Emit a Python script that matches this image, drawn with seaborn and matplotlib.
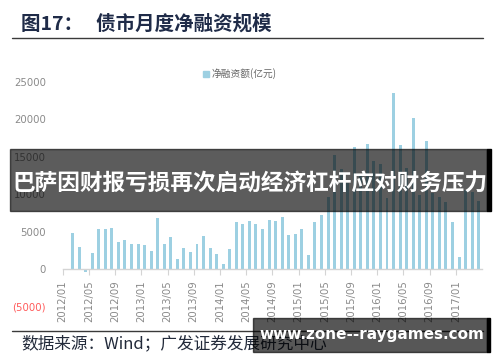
import matplotlib
matplotlib.use("Agg")
import matplotlib.pyplot as plt
import seaborn as sns
import pandas as pd
from matplotlib.patches import Rectangle
from matplotlib.lines import Line2D

sns.set_theme(style="white")
plt.rcParams['font.family'] = ['Noto Sans CJK SC', 'DejaVu Sans']

# ---------------- data ----------------
months = [f"{y}/{m:02d}" for y in range(2012, 2018) for m in range(1, 13)][:64]
net_financing = [
    0, 4770, 2900, -360, 2180, 5350, 5350, 5440, 3600, 3880, 3300, 3300,
    3230, 2360, 6880, 3320, 4320, 1400, 2850, 2320, 3320, 4450, 2850, 1980,
    670, 2720, 6240, 5950, 6420, 5970, 5390, 6600, 6420, 6910, 4500, 4630,
    5350, 1920, 6240, 7220, 9670, 15240, 13330, 11500, 16270, 12500, 16710, 14500,
    14000, 9450, 23490, 16580, 13460, 20150, 9890, 17110, 10120, 9670, 9000, 6240,
    1560, 10560, 10340, 9130,
]
tick_labels = months[::4]
y_ticks = [-5000, 0, 5000, 10000, 15000, 20000, 25000]
y_tick_labels = ["(5000)", "0", "5000", "10000", "15000", "20000", "25000"]
title_text = "图17：   债市月度净融资规模"
legend_text = "净融资额(亿元)"
source_text = "数据来源：Wind；广发证券发展研究中心"
banner_text = "巴萨因财报亏损再次启动经济杠杆应对财务压力"
watermark_text = "www.zone--raygames.com"

df = pd.DataFrame({"month": months, "value": net_financing})

W, H = 500, 362
fig = plt.figure(figsize=(W / 100, H / 100), dpi=100)

def fx(x):
    return x / W

def fy(y):
    return 1 - y / H

# axes geometry (pixels)
x_left, x_right = 62.7, 482.0
y_bottom, y_top = 306.4, 74.5
ax = fig.add_axes([fx(x_left), fy(y_bottom), (x_right - x_left) / W, (y_bottom - y_top) / H])

bar_color = "#9dd0e2"
sns.barplot(data=df, x="month", y="value", color=bar_color, saturation=1,
            width=0.45, ax=ax, order=months, linewidth=0)

ax.set_xlim(-0.5, len(months) - 0.5)
ax.set_ylim(-5000, 26000)
ax.set_xlabel("")
ax.set_ylabel("")

for s in ["top", "right", "left"]:
    ax.spines[s].set_visible(False)
ax.spines["bottom"].set_position(("data", 0))
ax.spines["bottom"].set_color("#d4d4d4")
ax.spines["bottom"].set_linewidth(1.0)

tick_pos = [i - 0.5 for i in range(0, len(months), 4)]
ax.set_xticks(tick_pos)
ax.set_xticklabels(tick_labels, rotation=90, fontsize=7.3, color="#8a8a8a",
                   family=["DejaVu Sans"])
ax.tick_params(axis="x", length=4, width=0.8, color="#d4d4d4", pad=4, bottom=True)

ax.set_yticks(y_ticks)
ax.set_yticklabels(y_tick_labels, fontsize=7.3, family=["DejaVu Sans"])
ax.tick_params(axis="y", length=0, pad=12)
for lbl in ax.get_yticklabels():
    lbl.set_color("#ff5a5a" if lbl.get_text().startswith("(") else "#8a8a8a")
ax.grid(False)

# legend
fig.patches.append(Rectangle((fx(203), fy(76.5)), 6 / W, 6 / H, transform=fig.transFigure,
                             color=bar_color, zorder=5))
fig.text(fx(212), fy(73.5), legend_text, fontsize=7, color="#666666", va="center", ha="left")

# title and rules
fig.text(fx(21), fy(24), title_text, fontsize=14, fontweight="bold", color="#1f2b48",
         va="center", ha="left")
fig.add_artist(Line2D([fx(12), fx(483)], [fy(38), fy(38)], color="#3a3a3a", lw=1.0))
fig.add_artist(Line2D([fx(12), fx(483)], [fy(331), fy(331)], color="#3a3a3a", lw=1.0))
fig.text(fx(21), fy(344), source_text, fontsize=12, color="#222a3a", va="center", ha="left")

# banner overlay
fig.patches.append(Rectangle((fx(10), fy(211)), (487 - 10) / W, (211 - 149) / H,
                             transform=fig.transFigure, color="#000000", alpha=0.64, zorder=10))
fig.patches.append(Rectangle((fx(487), fy(211)), 4 / W, (211 - 149) / H,
                             transform=fig.transFigure, color="#000000", zorder=10))
fig.text(fx(250), fy(183), banner_text, fontsize=16.3, fontweight="bold", color="white",
         va="center", ha="center", zorder=11)

# watermark box
fig.patches.append(Rectangle((fx(253), fy(352)), (487 - 253) / W, (352 - 318) / H,
                             transform=fig.transFigure, color="#000000", alpha=0.66, zorder=10))
fig.patches.append(Rectangle((fx(487), fy(352)), 3 / W, (352 - 318) / H,
                             transform=fig.transFigure, color="#000000", zorder=10))
fig.text(fx(372), fy(334), watermark_text, fontsize=11, fontweight="bold", color="white",
         va="center", ha="center", zorder=11, family=["DejaVu Sans"])

fig.savefig("out.png", dpi=100)
